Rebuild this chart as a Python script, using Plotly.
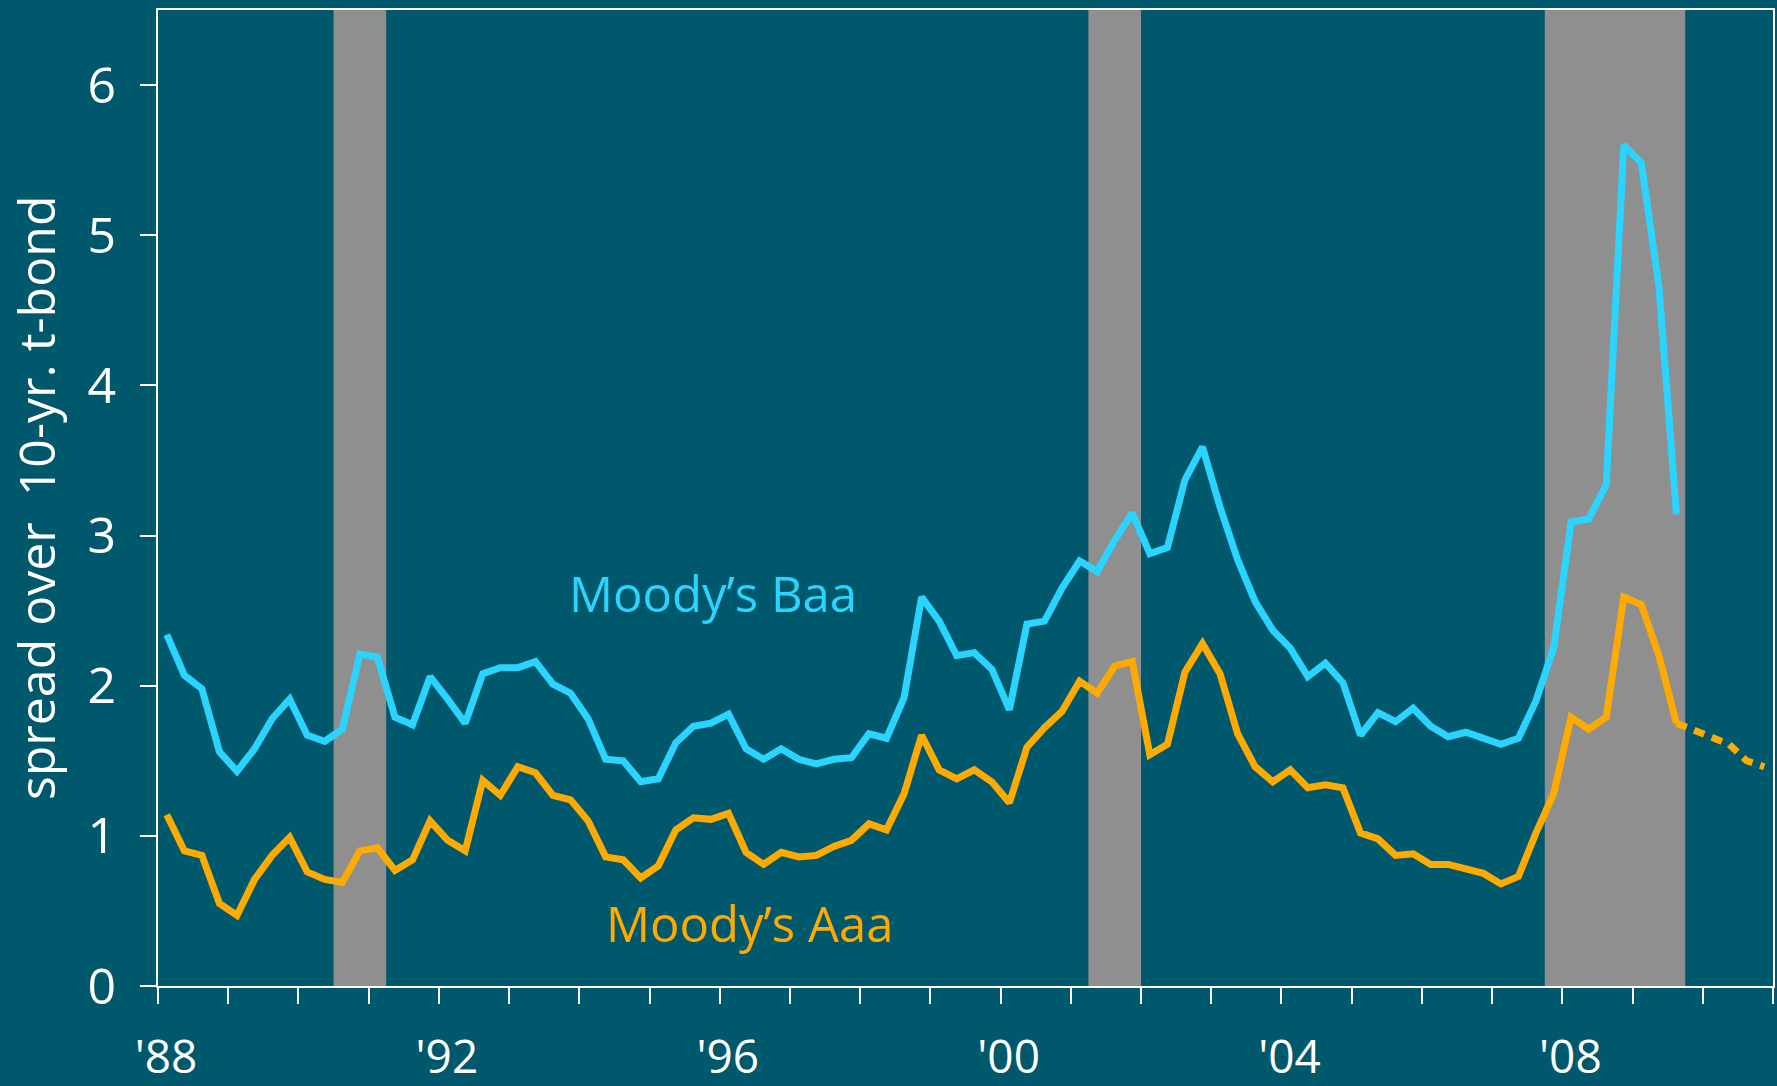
import plotly.graph_objects as go
import pandas as pd

# ---------------- data (quarterly, 1988Q1 .. 2009Q3) ----------------
start_quarter = "1988Q1"
baa = [2.34, 2.07, 1.98, 1.56, 1.43, 1.58, 1.78, 1.91, 1.67, 1.63,
       1.71, 2.21, 2.19, 1.79, 1.74, 2.06, 1.91, 1.75, 2.08, 2.12,
       2.12, 2.16, 2.01, 1.95, 1.78, 1.51, 1.50, 1.36, 1.38, 1.62,
       1.73, 1.75, 1.81, 1.58, 1.51, 1.58, 1.51, 1.48, 1.51, 1.52,
       1.68, 1.65, 1.92, 2.59, 2.43, 2.20, 2.22, 2.11, 1.84, 2.41,
       2.43, 2.65, 2.83, 2.76, 2.97, 3.15, 2.88, 2.92, 3.37, 3.59,
       3.19, 2.84, 2.56, 2.37, 2.25, 2.06, 2.15, 2.02, 1.67, 1.82,
       1.76, 1.85, 1.73, 1.66, 1.69, 1.65, 1.61, 1.65, 1.90, 2.25,
       3.09, 3.11, 3.34, 5.60, 5.48, 4.66, 3.14]
aaa = [1.14, 0.90, 0.87, 0.55, 0.47, 0.71, 0.87, 0.99, 0.76, 0.71,
       0.69, 0.90, 0.92, 0.77, 0.84, 1.10, 0.97, 0.90, 1.37, 1.27,
       1.46, 1.42, 1.27, 1.24, 1.10, 0.86, 0.84, 0.72, 0.80, 1.04,
       1.12, 1.11, 1.15, 0.89, 0.81, 0.89, 0.86, 0.87, 0.93, 0.97,
       1.08, 1.04, 1.28, 1.67, 1.44, 1.38, 1.44, 1.36, 1.22, 1.59,
       1.72, 1.83, 2.03, 1.95, 2.13, 2.16, 1.54, 1.61, 2.09, 2.28,
       2.08, 1.68, 1.46, 1.36, 1.44, 1.32, 1.34, 1.32, 1.02, 0.98,
       0.87, 0.88, 0.81, 0.81, 0.78, 0.75, 0.68, 0.73, 1.02, 1.28,
       1.79, 1.71, 1.79, 2.59, 2.54, 2.20, 1.75]
# projected Aaa spread (dotted), 2009Q3 .. 2010Q4
forecast_start = "2009Q3"
aaa_forecast = [1.75, 1.70, 1.66, 1.61, 1.50, 1.46]

recessions = [(1990.5, 1991.25), (2001.25, 2002.0), (2007.75, 2009.75)]

year_ticks = list(range(1988, 2012))
labeled_years = {1988: "'88", 1992: "'92", 1996: "'96", 2000: "'00", 2004: "'04", 2008: "'08"}
y_ticks = [0, 1, 2, 3, 4, 5, 6]

# ---------------- helpers ----------------
def quarter_mid(periods):
    return [p.year + (p.quarter - 0.5) / 4 for p in periods]

x_hist = quarter_mid(pd.period_range(start_quarter, periods=len(baa), freq="Q"))
x_fc = quarter_mid(pd.period_range(forecast_start, periods=len(aaa_forecast), freq="Q"))

BG = "#00586c"
CYAN = "#2ad4ff"
ORANGE = "#ffaa00"
GREY = "#8f8f8f"
FONT = "Open Sans, DejaVu Sans, sans-serif"

fig = go.Figure()

fig.add_trace(go.Scatter(x=x_hist, y=baa, mode="lines",
                         line=dict(color=CYAN, width=7), name="Moody's Baa",
                         showlegend=False))
fig.add_trace(go.Scatter(x=x_hist, y=aaa, mode="lines",
                         line=dict(color=ORANGE, width=7), name="Moody's Aaa",
                         showlegend=False))
fig.add_trace(go.Scatter(x=x_fc, y=aaa_forecast, mode="lines",
                         line=dict(color=ORANGE, width=7, dash="11px,8px"),
                         showlegend=False))

for a, b in recessions:
    fig.add_shape(type="rect", xref="x", yref="paper", x0=a, x1=b, y0=0, y1=1,
                  fillcolor=GREY, line=dict(width=0), layer="below")

fig.add_annotation(x=1995.9, y=2.62, xref="x", yref="y", text="Moody’s Baa",
                   showarrow=False, font=dict(family=FONT, size=49, color=CYAN),
                   xanchor="center", yanchor="middle")
fig.add_annotation(x=1996.43, y=0.42, xref="x", yref="y", text="Moody’s Aaa",
                   showarrow=False, font=dict(family=FONT, size=49, color=ORANGE),
                   xanchor="center", yanchor="middle")
fig.add_annotation(x=-0.0755, y=0.5, xref="paper", yref="paper",
                   text="spread over\u00a0\u00a010-yr. t-bond", textangle=-90,
                   showarrow=False, font=dict(family=FONT, size=50, color="white"),
                   xanchor="center", yanchor="middle")

fig.update_xaxes(range=[1988, 2011], tickmode="array", tickvals=year_ticks,
                 ticktext=[labeled_years.get(y, "") for y in year_ticks],
                 ticks="outside", ticklen=16, tickwidth=2, tickcolor="white",
                 showline=True, linecolor="white", linewidth=2, mirror=True,
                 showgrid=False, zeroline=False, ticklabelshift=8,
                 ticklabelstandoff=14, automargin=False,
                 tickfont=dict(family=FONT, size=46, color="white"))
fig.update_yaxes(range=[0, 6.5], tickmode="array", tickvals=y_ticks,
                 ticks="outside", ticklen=16, tickwidth=2, tickcolor="white",
                 showline=True, linecolor="white", linewidth=2, mirror=True,
                 showgrid=False, zeroline=False, ticklabelstandoff=14,
                 automargin=False,
                 tickfont=dict(family=FONT, size=50, color="white"))

fig.update_layout(width=1777, height=1086, paper_bgcolor=BG, plot_bgcolor=BG,
                  margin=dict(l=158, r=4, t=10, b=100, autoexpand=False),
                  showlegend=False)

fig.write_html(
    "out.html",
    config={"displayModeBar": False},
    post_script=("document.documentElement.style.margin='0';"
                 "document.body.style.margin='0';"
                 "document.body.style.overflow='hidden';"
                 "document.body.style.background='" + BG + "';"),
)
